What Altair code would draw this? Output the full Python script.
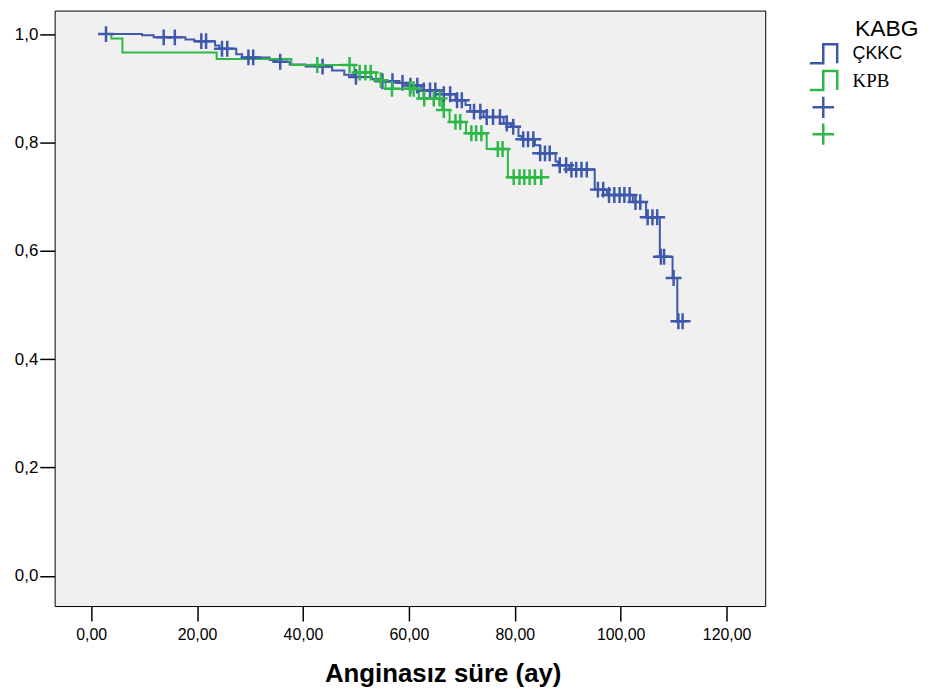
import altair as alt
import pandas as pd

# ---- data ----
groups = ["ÇKKC", "KPB"]
colors = ["#3E58AC", "#2EB848"]

# ÇKKC step curve (time in months, survival)
ckkc_t = [1.6, 9.6, 11.8, 17.8, 19.5, 23.4, 24.2, 27.4, 28.5, 33.7, 35.0, 37.5, 40.5,
          45.5, 47.8, 49.7, 53.0, 55.0, 58.0, 59.8, 62.3, 66.0, 68.8, 70.7, 71.6, 74.1,
          77.9, 79.3, 80.7, 81.3, 83.8, 84.8, 87.7, 88.2, 90.3, 95.1, 97.4, 102.3, 104.8,
          107.4, 109.8, 110.7, 111.7]
ckkc_s = [1.0, 0.998, 0.994, 0.990, 0.987, 0.979, 0.973, 0.963, 0.957, 0.952, 0.949, 0.944, 0.940,
          0.933, 0.925, 0.921, 0.917, 0.913, 0.910, 0.905, 0.896, 0.889, 0.878, 0.869, 0.857, 0.847,
          0.835, 0.829, 0.812, 0.806, 0.795, 0.780, 0.765, 0.758, 0.750, 0.713, 0.703, 0.690, 0.662,
          0.589, 0.550, 0.470, 0.470]
ckkc_censor = [2.8, 13.7, 15.8, 20.8, 21.7, 24.7, 25.7, 29.7, 30.6, 35.7, 43.7, 50.0, 55.0, 56.9,
               58.8, 60.3, 61.6, 62.8, 64.0, 65.0, 66.6, 67.8, 69.1, 70.0, 72.3, 73.5, 74.7, 75.9,
               77.2, 78.5, 79.7, 81.6, 82.5, 83.5, 84.8, 85.7, 86.6, 88.5, 89.7, 90.7, 91.6, 92.6,
               93.6, 95.7, 96.7, 97.8, 98.8, 99.8, 100.7, 101.7, 102.8, 103.7, 105.1, 106.0, 106.9,
               107.6, 108.2, 110.0, 110.9, 111.7]

# KPB step curve
kpb_t = [1.6, 3.8, 5.9, 23.7, 37.8, 49.7, 53.8, 55.6, 61.9, 66.3, 67.7, 70.8, 74.7, 78.7, 85.0]
kpb_s = [1.0, 0.992, 0.966, 0.954, 0.943, 0.929, 0.915, 0.899, 0.881, 0.860, 0.838, 0.817,
         0.788, 0.736, 0.736]
kpb_censor = [42.7, 48.8, 50.7, 51.8, 52.8, 54.7, 56.8, 60.2, 60.9, 62.9, 64.7, 65.8, 66.6,
              68.8, 69.7, 71.8, 72.7, 73.7, 76.8, 77.7, 79.8, 80.9, 81.8, 82.8, 83.8, 85.0]

x_ticks = [0, 20, 40, 60, 80, 100, 120]
y_ticks = [0.0, 0.2, 0.4, 0.6, 0.8, 1.0]
legend_title = "KABG"


def step_value(ts, ss, c):
    v = ss[0]
    for t, s in zip(ts, ss):
        if t <= c:
            v = s
    return v


line_rows = []
point_rows = []
for g, col, ts, ss, cs in [("ÇKKC", colors[0], ckkc_t, ckkc_s, ckkc_censor),
                           ("KPB", colors[1], kpb_t, kpb_s, kpb_censor)]:
    for t, s in zip(ts, ss):
        line_rows.append({"t": t, "S": s, "col": col, "grp": g})
    for c in cs:
        point_rows.append({"t": c, "S": step_value(ts, ss, c), "key": g + "+"})

lines_df = pd.DataFrame(line_rows)
points_df = pd.DataFrame(point_rows)

keys = ["ÇKKC", "KPB", "ÇKKC+", "KPB+"]
step_path = "M-1.21,0.8H0V-0.8H1.17V0.8"
cross_path = "M-0.9,0H0.9M0,-0.9V0.9"

x_scale = alt.Scale(domain=[-6.9, 127.3], nice=False, zero=False)
y_scale = alt.Scale(domain=[-0.0555, 1.0434], nice=False, zero=False)

x_axis = alt.Axis(values=x_ticks, labelExpr="replace(format(datum.value, '.2f'), '.', ',')",
                  grid=False, domain=False, tickSize=15, tickWidth=1.5, tickColor="black",
                  labelColor="black", labelFont="Liberation Sans", labelFontSize=16,
                  labelPadding=6, title="Anginasız süre (ay)", titleFont="Liberation Sans",
                  titleFontSize=26, titleFontWeight="bold", titleColor="black",
                  titleX=391, titleY=68, titleBaseline="middle", titleAlign="center")
y_axis = alt.Axis(values=y_ticks, labelExpr="replace(format(datum.value, '.1f'), '.', ',')",
                  grid=False, domain=False, tickSize=15, tickWidth=1.5, tickColor="black",
                  labelColor="black", labelFont="Liberation Sans", labelFontSize=17,
                  labelPadding=2, title="")

lines = alt.Chart(lines_df).mark_line(interpolate="step-after", strokeWidth=2).encode(
    x=alt.X("t:Q", scale=x_scale, axis=x_axis),
    y=alt.Y("S:Q", scale=y_scale, axis=y_axis),
    stroke=alt.Stroke("col:N", scale=None, legend=None),
    detail="grp:N",
)

legend = alt.Legend(
    title=None, orient="none", legendX=761, legendY=30, padding=0,
    labelFont=alt.ExprRef("datum.value == 'KPB' ? 'Liberation Serif' : 'Liberation Sans'"),
    labelFontSize=alt.ExprRef("datum.value == 'KPB' ? 19 : 18"),
    labelColor="black", labelOffset=16,
    symbolSize=576, symbolStrokeWidth=2.5, symbolFillColor="transparent",
    rowPadding=0, clipHeight=27,
    labelExpr="indexof(datum.label, '+') >= 0 ? '' : datum.label",
)

points = alt.Chart(points_df).mark_point(filled=False, strokeWidth=2.5, size=316, opacity=1).encode(
    x=alt.X("t:Q", scale=x_scale),
    y=alt.Y("S:Q", scale=y_scale),
    color=alt.Color("key:N", scale=alt.Scale(domain=keys, range=colors + colors), legend=legend),
    shape=alt.Shape("key:N", scale=alt.Scale(domain=keys,
                                             range=[step_path, step_path, cross_path, cross_path]),
                    legend=legend),
)

title_text = alt.Chart(pd.DataFrame({"label": [legend_title]})).mark_text(
    font="Liberation Sans", fontSize=23, color="black", align="center", baseline="middle"
).encode(x=alt.value(838.5), y=alt.value(18.5), text="label:N")

chart = alt.layer(lines, points, title_text).properties(
    width=716, height=600,
    padding={"left": 47, "top": 0, "right": 160, "bottom": 83},
    autosize=alt.AutoSizeParams(type="none"),
    background="white",
).configure_view(fill="#F0F0F0", stroke="black", strokeWidth=1)

chart.save("out.html", embed_options={"renderer": "svg", "actions": False})
